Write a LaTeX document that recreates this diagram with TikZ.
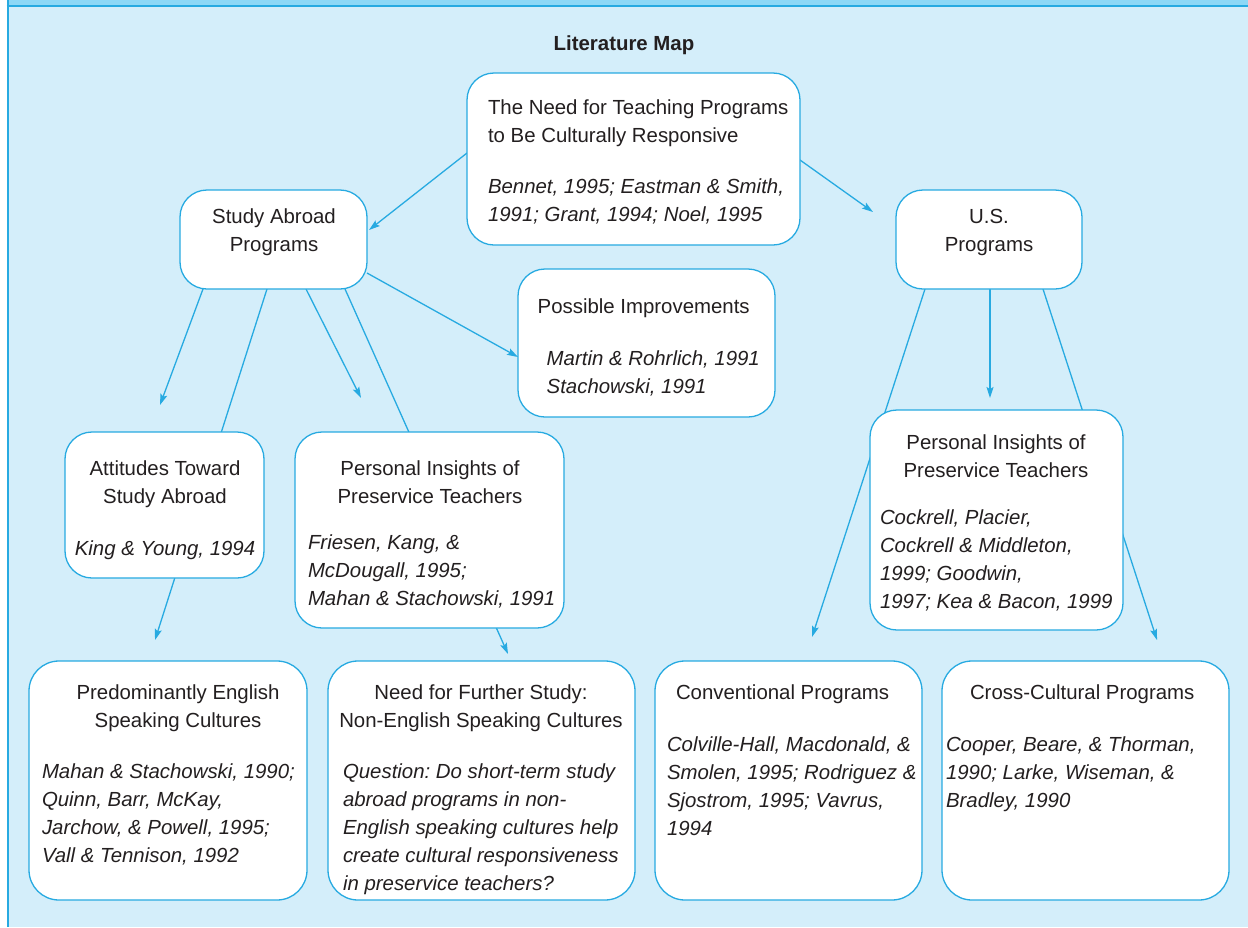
\documentclass[tikz,border=0pt]{standalone}
\usepackage{fontspec}
\setmainfont{Liberation Sans}
\usetikzlibrary{arrows.meta}
\definecolor{lineblue}{RGB}{39,170,225}
\definecolor{bgblue}{RGB}{212,238,250}
\definecolor{bandblue}{RGB}{141,216,246}
\definecolor{txtcol}{RGB}{35,31,32}
\newcommand{\ltab}[1]{\begin{tabular}[t]{@{}l@{}}#1\end{tabular}}
\newcommand{\ctab}[1]{\begin{tabular}[t]{@{}c@{}}#1\end{tabular}}
\frenchspacing
\begin{document}
\begin{tikzpicture}[x=1pt,y=-1pt,
  box/.style={draw=lineblue, fill=white, line width=1.3pt, rounded corners=27pt, inner sep=0pt, outer sep=0pt},
  txt/.style={inner sep=0pt, outer sep=0pt, anchor=base west, text=txtcol, font=\fontsize{20.4}{28}\selectfont},
  ctxt/.style={txt, anchor=base},
  cite/.style={txt, font=\fontsize{20.4}{28}\selectfont\itshape},
  ccite/.style={cite, anchor=base},
  arr/.style={draw=lineblue, line width=1.3pt, -{Stealth[length=11pt,width=7pt,inset=2pt]}},
  conn/.style={draw=lineblue, line width=1.3pt}]
\useasboundingbox (0,0) rectangle (1248,927);
% frame
\fill[bgblue] (8,6) rectangle (1248,927);
\fill[bandblue] (8,0) rectangle (1248,5);
\draw[lineblue, line width=2.4pt] (6.7,6.2) -- (1248,6.2);
\draw[lineblue, line width=2.6pt] (8,0) -- (8,927);

% title
\node[txt, anchor=base, font=\fontsize{20.4}{28}\selectfont\bfseries] (title) at (624,50) {Literature Map};

% tip coordinates
\coordinate (t1) at (369,230);
\coordinate (t2) at (873,212);
\coordinate (t4) at (160,405);
\coordinate (t5) at (155,640);
\coordinate (t6) at (361,398);
\coordinate (t7) at (508,654);
\coordinate (t8) at (990,398);
\coordinate (t9) at (812,637);
\coordinate (t10) at (1157,640);

% node outlines used as anchors for the connectors
\node[box, minimum width=333pt, minimum height=172pt, draw=none, fill=none] (top) at (633.5,159) {};
\node[box, minimum width=187pt, minimum height=99pt, draw=none, fill=none] (sa) at (273.5,239.5) {};
\node[box, minimum width=186pt, minimum height=99pt, draw=none, fill=none] (us) at (989,239.5) {};
\node[box, minimum width=257pt, minimum height=148pt, draw=none, fill=none] (pi) at (646.5,343) {};

% connectors first, so that boxes cover them
\draw[arr] ([yshift=6pt]top.west) -- (t1);
\draw[arr] ([yshift=-1pt]top.east) -- (t2);
\draw[arr] ([yshift=-33.5pt]sa.east) -- ([yshift=-14pt]pi.west);
\draw[arr] ([xshift=-70.5pt]sa.south) -- (t4);
\draw[arr] ([xshift=-6.5pt]sa.south) -- (t5);
\draw[arr] ([xshift=32.5pt]sa.south) -- (t6);
\draw[arr] ([xshift=71.5pt]sa.south) -- (t7);
\draw[arr] ([xshift=1pt]us.south) -- (t8);
\draw[arr] ([xshift=-64pt]us.south) -- (t9);
\draw[arr] ([xshift=54pt]us.south) -- (t10);

% boxes
\node[box, minimum width=333pt, minimum height=172pt] (topb) at (top) {};
\node[box, minimum width=187pt, minimum height=99pt] (sab) at (sa) {};
\node[box, minimum width=186pt, minimum height=99pt] (usb) at (us) {};
\node[box, minimum width=257pt, minimum height=148pt] (pib) at (pi) {};
\node[box, minimum width=199pt, minimum height=146pt] (att) at (164.5,505) {};
\node[box, minimum width=269pt, minimum height=196pt] (pil) at (429.5,530) {};
\node[box, minimum width=253pt, minimum height=220pt] (pir) at (996.5,520) {};
\node[box, minimum width=278pt, minimum height=239pt, rounded corners=30pt] (pe) at (168,780.5) {};
\node[box, minimum width=307pt, minimum height=239pt, rounded corners=30pt] (nf) at (481.5,780.5) {};
\node[box, minimum width=267pt, minimum height=239pt, rounded corners=30pt] (cv) at (788.5,780.5) {};
\node[box, minimum width=287pt, minimum height=239pt, rounded corners=30pt] (cc) at (1085.5,780.5) {};

% texts
\node[txt] (topT) at (488,114) {\ltab{The Need for Teaching Programs\\to Be Culturally Responsive}};
\node[cite] (topC) at (488,193) {\ltab{Bennet, 1995; Eastman \& Smith,\\1991; Grant, 1994; Noel, 1995}};

\node[ctxt] (saT) at (274,223) {\ctab{Study Abroad\\Programs}};
\node[ctxt] (usT) at (989,223) {\ctab{U.S.\\Programs}};

\node[txt] (piT) at (537.7,313) {Possible Improvements};
\node[cite] (piC) at (546.7,365) {\ltab{Martin \& Rohrlich, 1991\\Stachowski, 1991}};

\node[ctxt] (attT) at (165,475) {\ctab{Attitudes Toward\\Study Abroad}};
\node[ccite] (attC) at (165,555) {King \& Young, 1994};

\node[ctxt] (pilT) at (430,475) {\ctab{Personal Insights of\\Preservice Teachers}};
\node[cite] (pilC) at (308,549) {\ltab{Friesen, Kang, \&\\McDougall, 1995;\\Mahan \& Stachowski, 1991}};

\node[ctxt] (pirT) at (996,449) {\ctab{Personal Insights of\\Preservice Teachers}};
\node[cite] (pirC) at (880,524) {\ltab{Cockrell, Placier,\\Cockrell \& Middleton,\\1999; Goodwin,\\1997; Kea \& Bacon, 1999}};

\node[ctxt] (peT) at (178,699) {\ctab{Predominantly English\\Speaking Cultures}};
\node[cite] (peC) at (42,778) {\ltab{Mahan \& Stachowski, 1990;\\Quinn, Barr, McKay,\\Jarchow, \& Powell, 1995;\\Vall \& Tennison, 1992}};

\node[ctxt] (nfT) at (481,699) {\ctab{Need for Further Study:\\Non-English Speaking Cultures}};
\node[cite] (nfC) at (343,778) {\ltab{Question: Do short-term study\\abroad programs in non-\\English speaking cultures help\\create cultural responsiveness\\in preservice teachers?}};

\node[txt] (cvT) at (676,699) {Conventional Programs};
\node[cite] (cvC) at (667,751) {\ltab{Colville-Hall, Macdonald, \&\\Smolen, 1995; Rodriguez \&\\Sjostrom, 1995; Vavrus,\\1994}};

\node[txt] (ccT) at (970,699) {Cross-Cultural Programs};
\node[cite] (ccC) at (946,751) {\ltab{Cooper, Beare, \& Thorman,\\1990; Larke, Wiseman, \&\\Bradley, 1990}};
\end{tikzpicture}
\end{document}
